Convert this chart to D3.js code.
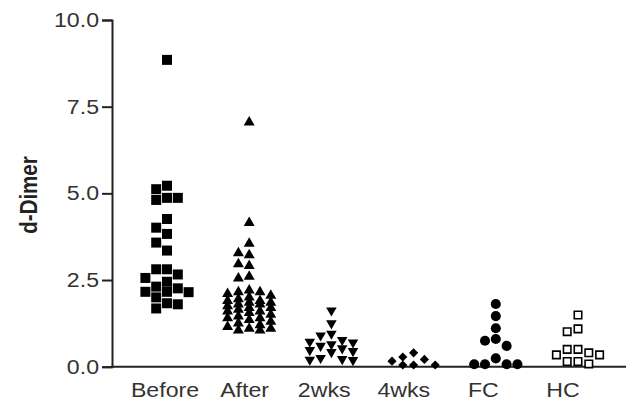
<!DOCTYPE html>
<html>
<head>
<meta charset="utf-8">
<script src="https://cdn.jsdelivr.net/npm/d3@7"></script>
<style>
  html, body { margin: 0; padding: 0; background: #fff; }
  svg { display: block; }
</style>
</head>
<body>
<svg id="chart" width="637" height="404"></svg>
<script>
// ---- data ----
const categories = ["Before", "After", "2wks", "4wks", "FC", "HC"];
const yTicks = [0, 2.5, 5.0, 7.5, 10.0];
const before = [8.85, 5.22, 5.12, 4.87, 4.87, 4.81, 4.26, 4.01, 3.83, 3.58, 3.35,
  2.81, 2.81, 2.66, 2.56, 2.45, 2.31, 2.26, 2.16, 2.16, 2.15, 2.0, 1.83, 1.80, 1.68];
const after = [7.05, 4.15, 3.55, 3.28, 3.22, 2.96, 2.91, 2.6, 2.55,
  2.2, 2.15, 2.15, 2.1, 2.05, 2.0,
  1.95, 1.9, 1.9, 1.85, 1.85, 1.8, 1.8,
  1.75, 1.7, 1.7, 1.65, 1.6, 1.6,
  1.55, 1.5, 1.45, 1.4, 1.4, 1.35, 1.3,
  1.25, 1.2, 1.15, 1.1, 1.1, 1.05, 1.05];
const wks2 = [1.62, 1.25, 0.95, 0.9, 0.77, 0.72, 0.7, 0.65, 0.6, 0.53, 0.48, 0.45, 0.42, 0.25, 0.22, 0.19, 0.2];
const wks4 = [0.4, 0.28, 0.21, 0.16, 0.05, 0.05, 0.05];
const fc = [1.81, 1.46, 1.11, 0.8, 0.75, 0.6, 0.24, 0.07, 0.07, 0.07, 0.07];
const hc = [1.49, 1.09, 1.01, 0.5, 0.5, 0.4, 0.34, 0.34, 0.15, 0.15, 0.08];
const seriesValues = [before, after, wks2, wks4, fc, hc];
const markerKinds = ["square", "triangleUp", "triangleDown", "diamond", "circle", "openSquare"];

// ---- layout ----
const svg = d3.select("#chart");
const y = d3.scaleLinear().domain([0, 10]).range([366.7, 20]);
const xPts = d3.scalePoint().domain(categories).range([167, 578]);
const xLbl = d3.scalePoint().domain(categories).range([165, 563]);
const axisX0 = 112, axisX1 = 626;
const stretch = 1.13;
const FONT = "Liberation Sans, Arial, sans-serif";

// y axis
const yAxis = d3.axisLeft(y).tickValues(yTicks).tickFormat(d3.format(".1f")).tickSize(10).tickPadding(3);
const gy = svg.append("g").attr("transform", `translate(${axisX0},0)`).call(yAxis);
gy.select(".domain").attr("stroke", "#222").attr("stroke-width", 2);
gy.selectAll(".tick line").attr("stroke", "#222").attr("stroke-width", 2);
gy.selectAll(".tick text").attr("font-family", FONT)
  .attr("font-size", 20.5).attr("fill", "#333")
  .attr("x", -13 / stretch)
  .attr("transform", `scale(${stretch},1)`);

// x axis (line only + labels)
svg.append("line").attr("x1", axisX0 - 1).attr("x2", axisX1)
  .attr("y1", y(0)).attr("y2", y(0)).attr("stroke", "#222").attr("stroke-width", 2);
svg.append("g").selectAll("text").data(categories).join("text")
  .attr("transform", d => `translate(${xLbl(d)},397) scale(${stretch},1)`)
  .attr("text-anchor", "middle")
  .attr("font-family", FONT)
  .attr("font-size", 20.5).attr("fill", "#333")
  .text(d => d);

// y title
svg.append("text")
  .attr("transform", `translate(29,195) rotate(-90) scale(1,${stretch})`)
  .attr("text-anchor", "middle").attr("dominant-baseline", "central")
  .attr("font-family", FONT)
  .attr("font-size", 20.5).attr("font-weight", "bold").attr("fill", "#222")
  .text("d-Dimer");

// dodge layout (column scatter)
const dx = 10.8, thr = 9.5, maxK = 2;
function dodge(vals) {
  const sorted = vals.slice().sort((a, b) => b - a);
  const placed = [];
  const order = [0];
  for (let k = 1; k <= maxK; k++) { order.push(-k, k); }
  sorted.forEach(v => {
    const py = y(v);
    let best = null, bestD = -1;
    for (const k of order) {
      let md = Infinity;
      placed.forEach(p => { if (p.k === k) md = Math.min(md, Math.abs(p.py - py)); });
      if (md >= thr) { best = k; bestD = Infinity; break; }
      if (md > bestD) { bestD = md; best = k; }
    }
    placed.push({ v, k: best, py });
  });
  return placed;
}

const symbolFor = {
  square: d3.symbol().type(d3.symbolSquare).size(100)(),
  triangleUp: d3.symbol().type(d3.symbolTriangle).size(52)(),
  triangleDown: d3.symbol().type(d3.symbolTriangle).size(48)(),
  diamond: d3.symbol().type(d3.symbolSquare).size(42)(),
  circle: d3.symbol().type(d3.symbolCircle).size(80)(),
  openSquare: d3.symbol().type(d3.symbolSquare).size(56)()
};
const rotFor = { square: 0, triangleUp: 0, triangleDown: 180, diamond: 45, circle: 0, openSquare: 0 };

categories.forEach((cat, i) => {
  const kind = markerKinds[i];
  const pts = dodge(seriesValues[i]);
  svg.append("g").selectAll("path").data(pts).join("path")
    .attr("d", symbolFor[kind])
    .attr("transform", d => `translate(${xPts(cat) + d.k * dx},${d.py}) rotate(${rotFor[kind]})`)
    .attr("fill", kind === "openSquare" ? "#fff" : "#000")
    .attr("stroke", kind === "openSquare" ? "#000" : "none")
    .attr("stroke-width", 1.6);
});
</script>
</body>
</html>
